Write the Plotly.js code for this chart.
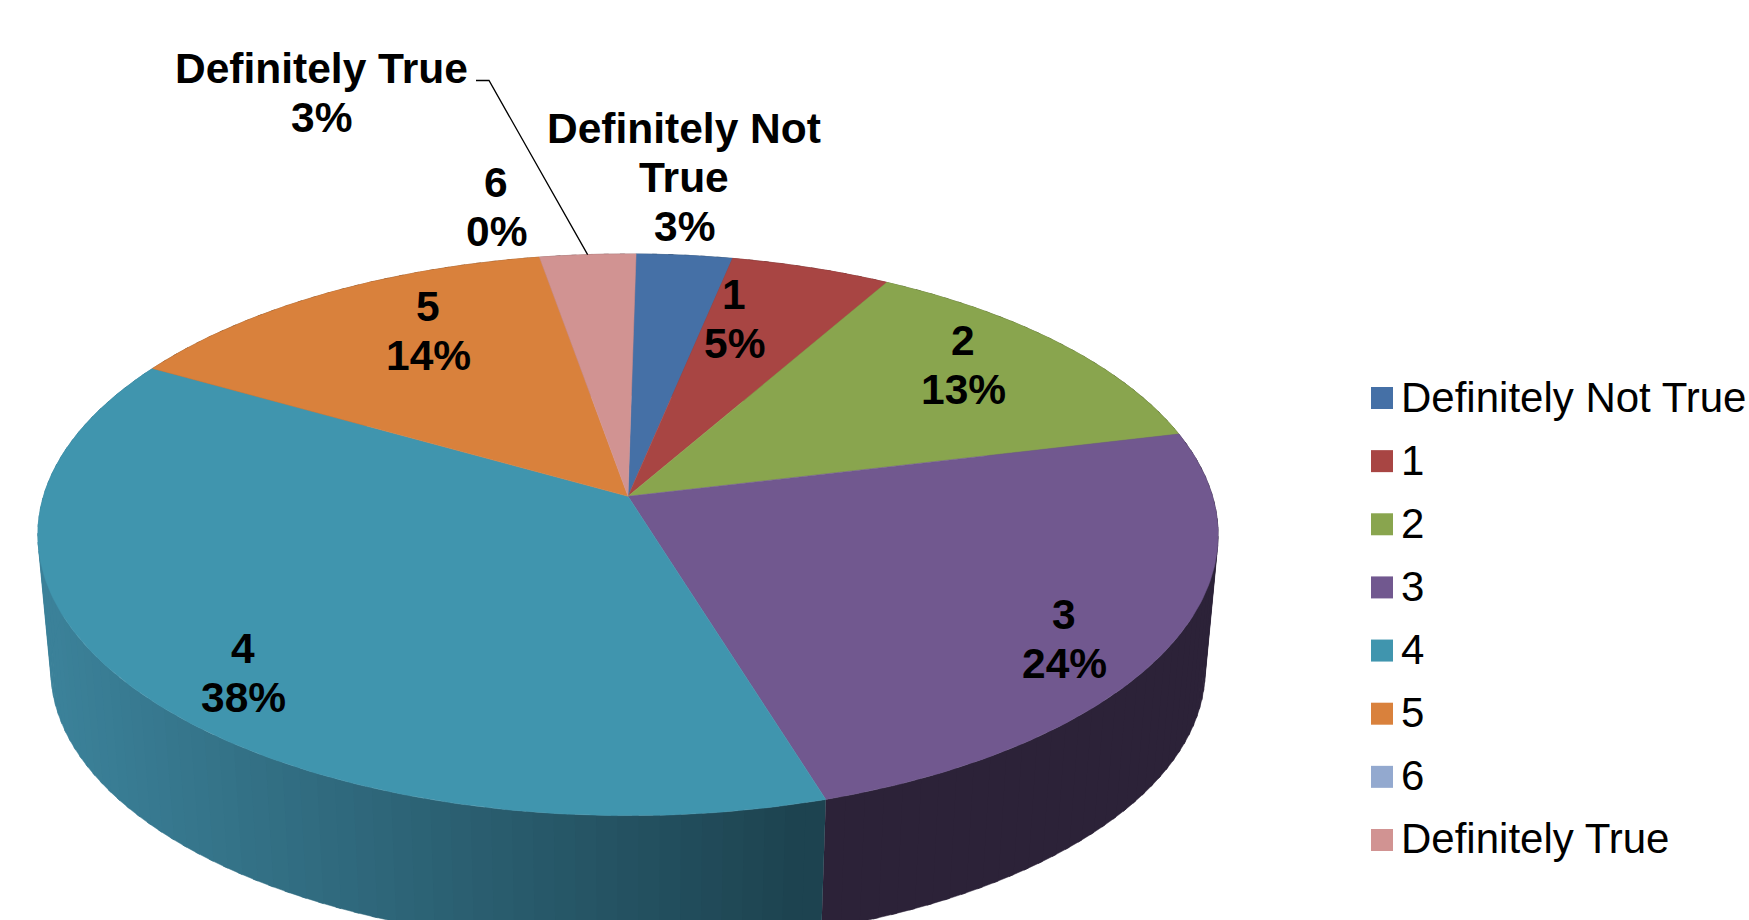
<!DOCTYPE html>
<html>
<head>
<meta charset="utf-8">
<script src="https://cdn.plot.ly/plotly-3.0.1.min.js"></script>
<style>html,body{margin:0;padding:0;background:#fff;overflow:hidden}</style>
</head>
<body>
<div id="chart" style="width:1749px;height:920px"></div>
<script>
// Survey answers and their share of responses, in percent.
const categories = ["Definitely Not True", "1", "2", "3", "4", "5", "6", "Definitely True"];
const shares = [3, 5, 13, 24, 38, 14, 0, 3];

// Slice colours, plus the shade of the outer wall at its left and right ends.
const topColors = ["#4570A6", "#A84543", "#89A54E", "#71588F", "#4095AE", "#D9813C", "#93A9CF", "#D19392"];
const wallLeft = ["#2a4565", "#662a28", "#53632f", "#2c2238", "#3b8199", "#854f25", "#59667d", "#7e5958"];
const wallRight = ["#2a4565", "#662a28", "#53632f", "#2c2238", "#1d4350", "#854f25", "#59667d", "#7e5958"];

// Middle of the first text line of each data label, and the leading between lines.
const labelX = [684, 734, 963, 1064, 243, 428, 496, 321];
const labelY = [128, 294, 340, 614, 648, 306, 182, 68];
const labelStep = 49.3;

// Perspective disc: apex position, foreshortening, radius and first-slice angle.
const CX = 628, APEX_Y = 496.3, ELLIPSE_Y = 534.5;
const PERSP = 0.137, RY = 275.6, RX = 584.6;
const FIRST_SLICE = 0.25;
// The lower rim is slightly narrower and sits below the top rim.
const RIM_SCALE = 0.978, RIM_DROP = 135.5;

const rad = p => (p + FIRST_SLICE) * 3.6 * Math.PI / 180;

function topPoint(pct) {
  const u = Math.sin(rad(pct)), v = Math.cos(rad(pct)), w = 1 + PERSP * v;
  return [CX + RX * u / w, APEX_Y - RY * v / w];
}
function rimPoint(pct) {
  const [x, y] = topPoint(pct);
  return [CX + RIM_SCALE * (x - CX), ELLIPSE_Y + RIM_SCALE * (y - ELLIPSE_Y) + RIM_DROP];
}
function mix(a, b, t) {
  const ch = (h, i) => parseInt(h.substr(1 + 2 * i, 2), 16);
  const c = [0, 1, 2].map(i => Math.round(ch(a, i) + (ch(b, i) - ch(a, i)) * t));
  return `rgb(${c[0]},${c[1]},${c[2]})`;
}
function polygon(points, color, width) {
  return {
    type: "scatter", mode: "lines", fill: "toself", fillcolor: color,
    x: points.map(p => p[0]), y: points.map(p => p[1]),
    line: { color: color, width: width }, hoverinfo: "skip", showlegend: false
  };
}

const traces = [];
const spans = [];
let running = 0;
shares.forEach((s, i) => { spans.push([running, running + s, i]); running += s; });

// Outer wall: narrow strips, so the shade can change along the rim.
// Each strip runs a little under the next one, which keeps the joins from showing.
const STRIP = 0.5, OVERLAP = 0.15, FINE = 0.25;
spans.forEach(([from, to, i]) => {
  for (let p = from; p < to - 1e-9; p += STRIP) {
    const q = Math.min(p + STRIP + OVERLAP, to);
    const a = topPoint(p), b = topPoint(q), c = rimPoint(q), d = rimPoint(p);
    const t = Math.max(0, Math.min(1, ((a[0] + b[0]) / 2 - 50) / 747));
    traces.push(polygon([a, b, c, d], mix(wallLeft[i], wallRight[i], t), 0.5));
  }
});

// Top face of each slice, fanned out from the apex.
spans.forEach(([from, to, i]) => {
  if (to <= from) return;
  const pts = [[CX, APEX_Y]];
  for (let p = from; p < to; p += FINE) pts.push(topPoint(p));
  pts.push(topPoint(to), [CX, APEX_Y]);
  traces.push(polygon(pts, topColors[i], 0.5));
});

// Leader line from the outermost label down to its slice.
const lastMid = 100 - shares[shares.length - 1] / 2;
const lastEdge = topPoint(lastMid);
traces.push({
  type: "scatter", mode: "lines", x: [476, 489, lastEdge[0]], y: [80.5, 80.5, lastEdge[1]],
  line: { color: "#000", width: 1.3 }, hoverinfo: "skip", showlegend: false
});

// Legend swatches on a fixed column.
const LEGEND_X = 1382, LEGEND_TOP = 398, LEGEND_STEP = 63.14;
traces.push({
  type: "scatter", mode: "markers",
  x: categories.map(() => LEGEND_X),
  y: categories.map((c, i) => LEGEND_TOP + i * LEGEND_STEP),
  marker: { symbol: "square", size: 22, color: topColors, line: { width: 0 } },
  hoverinfo: "skip", showlegend: false, cliponaxis: false
});

const annotations = [];
const textNote = (text, x, y, anchor, weight, size) => annotations.push({
  xref: "x", yref: "y", x: x, y: y, text: text, showarrow: false,
  xanchor: anchor, yanchor: "middle", borderpad: 0,
  font: { family: "Liberation Sans, Arial, sans-serif", size: size, color: "#000", weight: weight }
});

categories.forEach((name, i) => {
  const lines = name.replace("Not True", "Not\nTrue").split("\n").concat(shares[i] + "%");
  lines.forEach((line, j) => textNote(line, labelX[i], labelY[i] + j * labelStep, "center", 700, 42.5));
  textNote(name, 1400, LEGEND_TOP - 1 + i * LEGEND_STEP, "left", 400, 42);
});

Plotly.newPlot("chart", traces, {
  width: 1749, height: 920,
  margin: { l: 0, r: 0, t: 0, b: 0, autoexpand: false },
  paper_bgcolor: "#fff", plot_bgcolor: "#fff",
  xaxis: { range: [0, 1749], visible: false, fixedrange: true },
  yaxis: { range: [920, 0], visible: false, fixedrange: true },
  showlegend: false, hovermode: false,
  annotations: annotations
}, { displayModeBar: false, staticPlot: true });
</script>
</body>
</html>
